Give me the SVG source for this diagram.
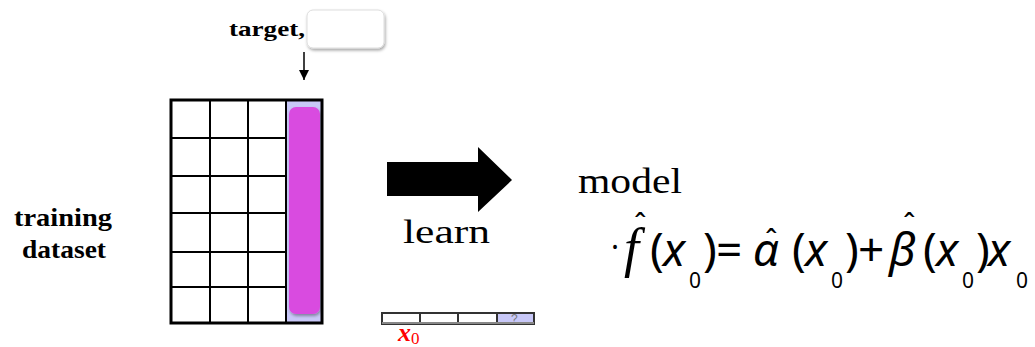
<svg xmlns="http://www.w3.org/2000/svg" width="1035" height="347" viewBox="0 0 1035 347">
<defs>
<style>
.lbl{font-family:"Liberation Serif",serif;fill:#000}
.math{font-family:"Noto Sans","DejaVu Sans",sans-serif;fill:#000;font-size:46px}
.it{font-style:italic}
.sub{font-size:21px}
.hat{font-family:"Noto Sans","DejaVu Sans",sans-serif;fill:#000;font-size:30px}
.grid{stroke:#000;stroke-width:2;fill:none}
</style>
<marker id="ah" markerWidth="10" markerHeight="12" refX="5" refY="10" orient="0" markerUnits="userSpaceOnUse">
<path d="M0,0 L5,10 L10,0 Z" fill="#000"/>
</marker>
<filter id="sh" x="-20%" y="-20%" width="140%" height="150%">
<feDropShadow dx="1" dy="2" stdDeviation="1.5" flood-color="#000" flood-opacity="0.35"/>
</filter>
</defs>
<rect width="1035" height="347" fill="#fff"/>

<g id="target">
<text class="lbl" x="229" y="36" font-size="22" font-weight="bold" textLength="76" lengthAdjust="spacingAndGlyphs">target,</text>
<rect x="307" y="10" width="77" height="38" rx="6" fill="#fff" stroke="#ddd" stroke-width="1" filter="url(#sh)"/>
</g>

<g id="connectors">
<line x1="304" y1="52" x2="304" y2="80" stroke="#000" stroke-width="1.5" marker-end="url(#ah)"/>
</g>

<g id="training-label">
<text class="lbl" x="14" y="226" font-size="25" font-weight="bold" textLength="98" lengthAdjust="spacingAndGlyphs">training</text>
<text class="lbl" x="22" y="258" font-size="25" font-weight="bold" textLength="84" lengthAdjust="spacingAndGlyphs">dataset</text>
</g>

<g id="dataset-grid">
<rect x="286" y="100" width="36" height="223" fill="#c8c8f8"/>
<path class="grid" d="M210,100V323M248,100V323M286,100V323M171,138H286M171,176H286M171,213H286M171,252H286M171,287H286"/>
<rect x="289" y="107" width="31" height="207" rx="7" fill="#d94ce0" filter="url(#sh)"/>
<rect x="171" y="100" width="151" height="223" fill="none" stroke="#000" stroke-width="3"/>
</g>

<g id="learn">
<polygon points="387,162 478,162 478,147 512,180 478,212 478,196 387,196" fill="#000"/>
<text class="lbl" x="403" y="243" font-size="34" textLength="87" lengthAdjust="spacingAndGlyphs">learn</text>
</g>

<g id="query-row">
<rect x="497" y="313" width="37" height="11" fill="#c8c8f8"/>
<text x="511" y="323" font-family="Liberation Sans,sans-serif" font-size="12" fill="#777">?</text>
<path d="M420,313V324M458,313V324M497,313V324" stroke="#333" stroke-width="2"/>
<rect x="382" y="313" width="152" height="11" fill="none" stroke="#333" stroke-width="2"/>
<path d="M382,323H534" stroke="#888" stroke-width="2"/>
<text x="398" y="341" font-family="Liberation Serif,serif" font-size="26" font-weight="bold" font-style="italic" fill="#f00">x<tspan font-size="17" font-style="normal" font-weight="normal" dy="3">0</tspan></text>
</g>

<g id="model">
<text class="lbl" x="578" y="193" font-size="36" textLength="104" lengthAdjust="spacingAndGlyphs">model</text>
<text class="math" y="266"><tspan x="611" font-size="30" dy="-8">·</tspan><tspan x="624" dy="8" font-family="Liberation Serif,serif" font-style="italic" font-size="54">f</tspan><tspan x="650">(</tspan><tspan class="it" x="663">x</tspan><tspan x="703">)</tspan><tspan x="716">=</tspan><tspan class="it" x="753">α</tspan><tspan x="792">(</tspan><tspan class="it" x="805">x</tspan><tspan x="845">)</tspan><tspan x="858">+</tspan><tspan class="it" x="889">β</tspan><tspan x="923">(</tspan><tspan class="it" x="936">x</tspan><tspan x="976">)</tspan><tspan class="it" x="988">x</tspan></text>
<text class="math sub" y="288"><tspan x="689">0</tspan><tspan x="831">0</tspan><tspan x="962">0</tspan><tspan x="1016">0</tspan></text>
<text class="hat" y="236"><tspan x="634">ˆ</tspan><tspan x="765" dy="16">ˆ</tspan><tspan x="903" dy="-16">ˆ</tspan></text>
</g>
</svg>
